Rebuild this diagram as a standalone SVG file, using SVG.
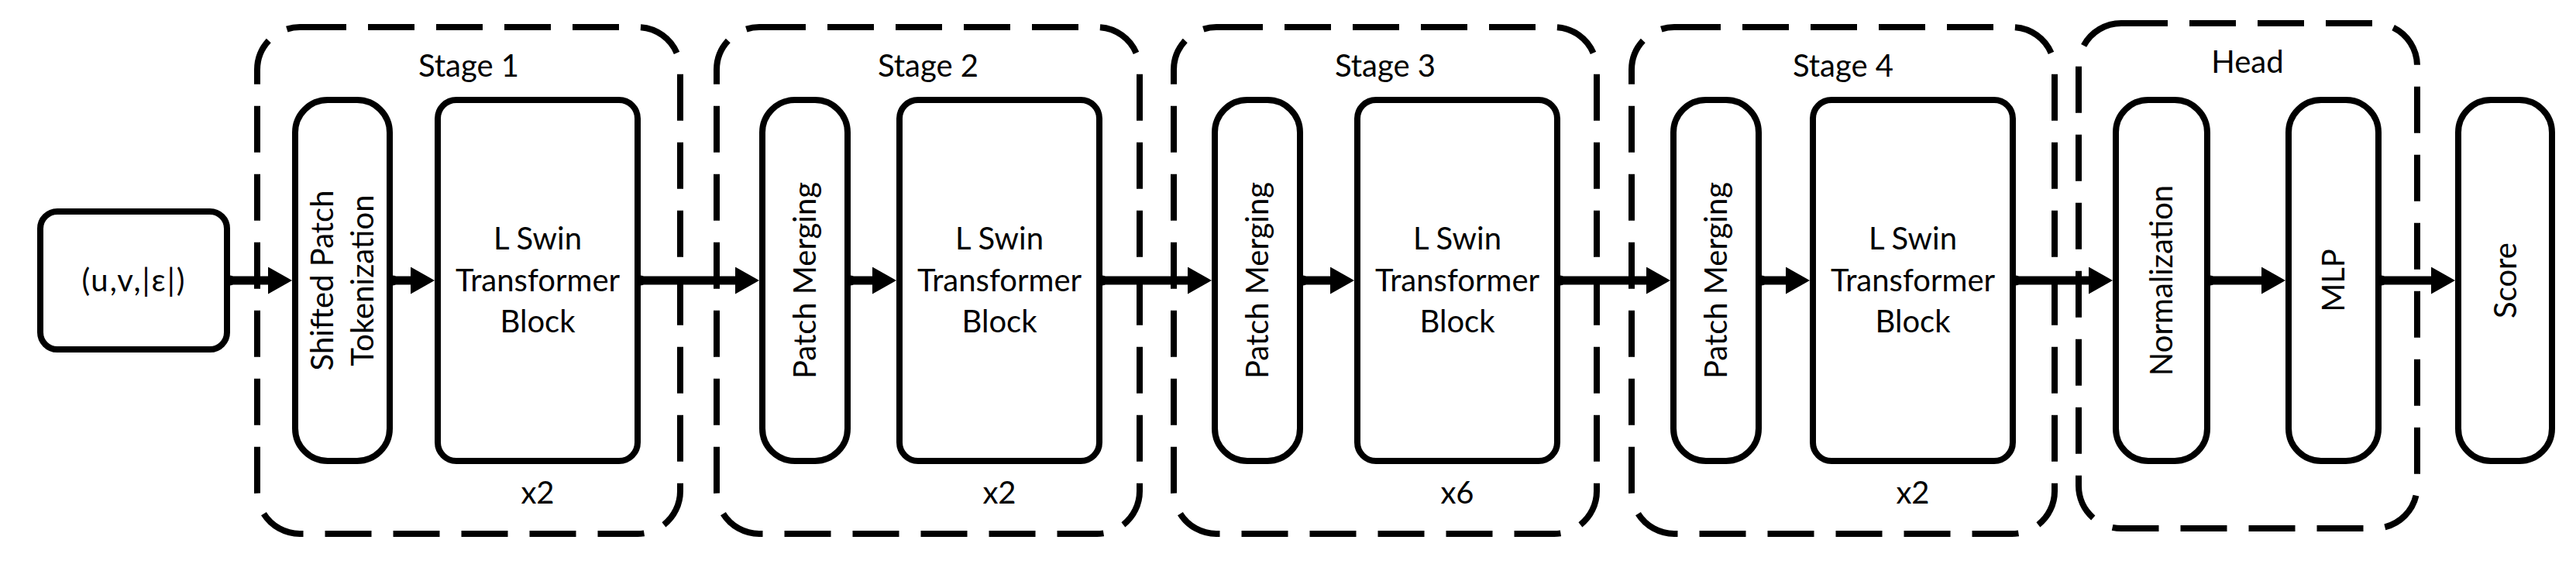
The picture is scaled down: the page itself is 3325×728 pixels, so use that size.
<svg xmlns="http://www.w3.org/2000/svg" width="3325" height="728" viewBox="0 0 3325 728">
<style>
.box{fill:#fff;stroke:#000;stroke-width:8}
.grp{fill:none;stroke:#000;stroke-width:8;stroke-dasharray:60 28}
.t{font-family:Lato,"Liberation Sans",sans-serif;font-size:40px;fill:#000;text-anchor:middle}
.conn{stroke:#000;stroke-width:11;fill:none;marker-end:url(#ah);marker-start:url(#dot)}
</style>
<defs>
<marker id="ah" markerUnits="userSpaceOnUse" viewBox="0 0 31 35" markerWidth="31" markerHeight="35" refX="2" refY="17.5" orient="auto"><polygon points="0,0 31,17.5 0,35" fill="#000"/></marker>
<marker id="dot" markerUnits="userSpaceOnUse" viewBox="0 0 14 14" markerWidth="14" markerHeight="14" refX="7" refY="7" orient="auto"><circle cx="7" cy="7" r="6.5" fill="#000"/></marker>
</defs>
<rect width="3325" height="728" fill="#fff"/>

<g id="stage1">
<rect class="grp" x="332" y="35" width="546" height="654" rx="55"/>
<text class="t" x="605" y="99">Stage 1</text>
<text class="t" x="694" y="650">x2</text>
</g>
<g id="stage2">
<rect class="grp" x="925" y="35" width="546" height="654" rx="55"/>
<text class="t" x="1198" y="99">Stage 2</text>
<text class="t" x="1290" y="650">x2</text>
</g>
<g id="stage3">
<rect class="grp" x="1515" y="35" width="546" height="654" rx="55"/>
<text class="t" x="1788" y="99">Stage 3</text>
<text class="t" x="1881" y="650">x6</text>
</g>
<g id="stage4">
<rect class="grp" x="2106" y="35" width="546" height="654" rx="55"/>
<text class="t" x="2379" y="99">Stage 4</text>
<text class="t" x="2469" y="650">x2</text>
</g>
<g id="head">
<rect class="grp" x="2683" y="30" width="437" height="652" rx="55"/>
<text class="t" x="2901" y="94">Head</text>
</g>

<g id="input">
<rect class="box" x="52" y="273" width="241" height="178" rx="22"/>
<text class="t" x="173" y="376" letter-spacing="2">(u,v,|ε|)</text>
</g>

<g id="s1_tokenization">
<rect class="box" x="381" y="129" width="122" height="466" rx="42"/>
<g transform="translate(442,362) rotate(-90)">
<text class="t" x="0" y="-12">Shifted Patch</text>
<text class="t" x="0" y="40">Tokenization</text>
</g>
</g>
<g id="s1_swin">
<rect class="box" x="565" y="129" width="258" height="466" rx="24"/>
<text class="t" x="694" y="322">L Swin</text>
<text class="t" x="694" y="376">Transformer</text>
<text class="t" x="694" y="429">Block</text>
</g>

<g id="s2_merge">
<rect class="box" x="984" y="129" width="110" height="466" rx="42"/>
<text class="t" transform="translate(1039,362) rotate(-90)" x="0" y="14">Patch Merging</text>
</g>
<g id="s2_swin">
<rect class="box" x="1161" y="129" width="258" height="466" rx="24"/>
<text class="t" x="1290" y="322">L Swin</text>
<text class="t" x="1290" y="376">Transformer</text>
<text class="t" x="1290" y="429">Block</text>
</g>

<g id="s3_merge">
<rect class="box" x="1568" y="129" width="110" height="466" rx="42"/>
<text class="t" transform="translate(1623,362) rotate(-90)" x="0" y="14">Patch Merging</text>
</g>
<g id="s3_swin">
<rect class="box" x="1752" y="129" width="258" height="466" rx="24"/>
<text class="t" x="1881" y="322">L Swin</text>
<text class="t" x="1881" y="376">Transformer</text>
<text class="t" x="1881" y="429">Block</text>
</g>

<g id="s4_merge">
<rect class="box" x="2160" y="129" width="110" height="466" rx="42"/>
<text class="t" transform="translate(2215,362) rotate(-90)" x="0" y="14">Patch Merging</text>
</g>
<g id="s4_swin">
<rect class="box" x="2340" y="129" width="258" height="466" rx="24"/>
<text class="t" x="2469" y="322">L Swin</text>
<text class="t" x="2469" y="376">Transformer</text>
<text class="t" x="2469" y="429">Block</text>
</g>

<g id="normalization">
<rect class="box" x="2731" y="129" width="118" height="466" rx="42"/>
<text class="t" transform="translate(2790,362) rotate(-90)" x="0" y="14">Normalization</text>
</g>
<g id="mlp">
<rect class="box" x="2954" y="129" width="116" height="466" rx="42"/>
<text class="t" transform="translate(3012,362) rotate(-90)" x="0" y="14">MLP</text>
</g>
<g id="score">
<rect class="box" x="3173" y="129" width="121" height="466" rx="42"/>
<text class="t" transform="translate(3233.5,362) rotate(-90)" x="0" y="14">Score</text>
</g>

<g id="connectors">
<path class="conn" d="M297 362H348"/>
<path class="conn" d="M507 362H532"/>
<path class="conn" d="M827 362H951"/>
<path class="conn" d="M1098 362H1128"/>
<path class="conn" d="M1423 362H1535"/>
<path class="conn" d="M1682 362H1719"/>
<path class="conn" d="M2014 362H2127"/>
<path class="conn" d="M2274 362H2307"/>
<path class="conn" d="M2602 362H2698"/>
<path class="conn" d="M2853 362H2921"/>
<path class="conn" d="M3074 362H3140"/>
</g>
</svg>
